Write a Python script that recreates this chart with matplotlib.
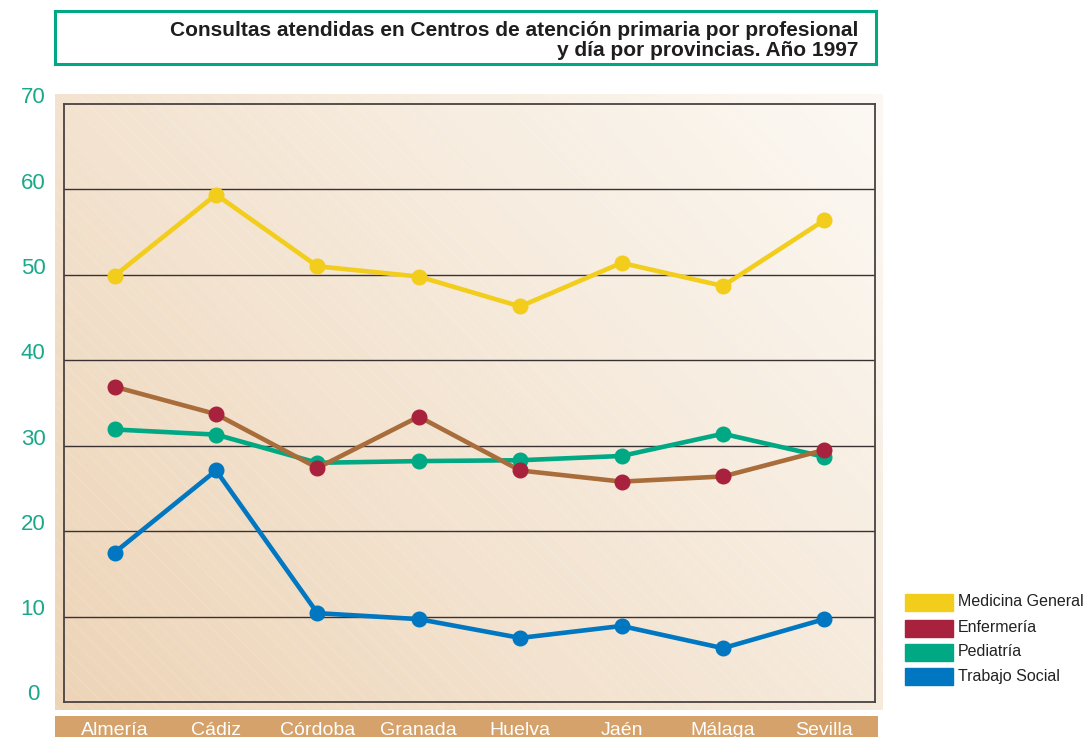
import matplotlib.pyplot as plt
import numpy as np
from matplotlib.patches import Rectangle
from matplotlib.font_manager import fontManager

provincias = ["Almería", "Cádiz", "Córdoba", "Granada", "Huelva", "Jaén", "Málaga", "Sevilla"]
medicina = [49.9, 59.4, 51.0, 49.8, 46.3, 51.4, 48.7, 56.4]
enfermeria = [36.9, 33.7, 27.4, 33.4, 27.1, 25.8, 26.4, 29.5]
pediatria = [31.9, 31.3, 28.0, 28.2, 28.3, 28.8, 31.4, 28.7]
trabajo_social = [17.5, 27.1, 10.4, 9.7, 7.5, 8.9, 6.3, 9.7]
yticks = [0, 10, 20, 30, 40, 50, 60, 70]

amarillo = "#f2cd1b"
granate = "#a8213d"
marron = "#a86d3a"
verde = "#00a884"
azul = "#0077c0"

nombres = [f.name for f in fontManager.ttflist]
narrow = "Liberation Sans Narrow" if "Liberation Sans Narrow" in nombres else "Liberation Sans"

W, H = 1089, 737
fig = plt.figure(figsize=(W / 100, H / 100), dpi=100)

def caja(x0, y0, x1, y1):
    # pixel box (top-left origin) -> figure fraction
    return [x0 / W, 1 - y1 / H, (x1 - x0) / W, (y1 - y0) / H]

# fondo degradado
bg = fig.add_axes(caja(55, 94, 883, 710), zorder=0)
gx, gy = np.meshgrid(np.linspace(0, 1, 200), np.linspace(0, 1, 200))
t = np.clip((gx * 0.6 + gy * 0.4), 0, 1)[..., None]
c0 = np.array([237, 212, 183]) / 255
c1 = np.array([252, 249, 244]) / 255
img = c0 * (1 - t) + c1 * t
bg.imshow(img, origin="lower", aspect="auto", extent=[0, 1, 0, 1])
bg.add_patch(Rectangle((0, 0), 1, 1, fill=False, hatch="\\\\", edgecolor=(1, 1, 1, 0.12), lw=0))
bg.set_axis_off()

# banda de provincias
band = fig.add_axes(caja(55, 716, 878, 737), zorder=0)
band.set_facecolor("#d4a26a")
band.set_xticks([])
band.set_yticks([])
for s in band.spines.values():
    s.set_visible(False)

ax = fig.add_axes(caja(64, 104, 875, 702), zorder=1)
ax.patch.set_alpha(0)
x = np.arange(len(provincias))

ax.plot(x, trabajo_social, color=azul, lw=3.3, marker="o", ms=10.5, zorder=3)
ax.plot(x, pediatria, color=verde, lw=3.3, marker="o", ms=10.5, zorder=4)
ax.plot(x, enfermeria, color=marron, lw=3.3, marker="o", ms=10.5,
        mfc=granate, mec=granate, zorder=5)
ax.plot(x, medicina, color=amarillo, lw=3.3, marker="o", ms=10.5, zorder=6)

ax.set_xlim(-0.5, 7.5)
ax.set_ylim(0, 70)
for v in yticks[1:-1]:
    ax.axhline(v, color="#3a3232", lw=1.0, zorder=2)
for s in ax.spines.values():
    s.set_color("#4a4242")
    s.set_linewidth(1.3)
ax.set_xticks([])
ax.set_yticks([])

# etiquetas eje y
for v in yticks:
    py = 702 - v * 8.53 - 7
    fig.text(33 / W, 1 - py / H, str(v), color="#1aa88a", fontsize=16,
             ha="center", va="center", family="Liberation Sans")

# etiquetas provincias
for i, p in enumerate(provincias):
    px = 64 + (i + 0.5) * 811 / 8
    fig.text(px / W, 1 - 735 / H, p, color="white", fontsize=14,
             ha="center", va="baseline", family=narrow)

# titulo
tb = fig.add_axes(caja(55, 11, 876, 64), zorder=2)
tb.set_xticks([])
tb.set_yticks([])
for s in tb.spines.values():
    s.set_color("#00a884")
    s.set_linewidth(2.2)
fig.text(858 / W, 1 - 36 / H, "Consultas atendidas en Centros de atención primaria por profesional",
         ha="right", va="baseline", fontsize=15, fontweight="bold", family=narrow, color="#1e1e1e", zorder=3)
fig.text(858 / W, 1 - 56 / H, "y día por provincias. Año 1997",
         ha="right", va="baseline", fontsize=15, fontweight="bold", family=narrow, color="#1e1e1e", zorder=3)

# leyenda
series = ["Medicina General", "Enfermería", "Pediatría", "Trabajo Social"]
colores = [amarillo, granate, verde, azul]
for nombre, col, cy in zip(series, colores, [602, 628, 652, 676]):
    fig.patches.append(Rectangle((905 / W, 1 - (cy + 8.5) / H), 48 / W, 17 / H,
                                 transform=fig.transFigure, color=col, zorder=3))
    fig.text(958 / W, 1 - cy / H, nombre, fontsize=11.5, va="center", ha="left",
             family="Liberation Sans", color="#222222")

fig.savefig("out.png", dpi=100)
